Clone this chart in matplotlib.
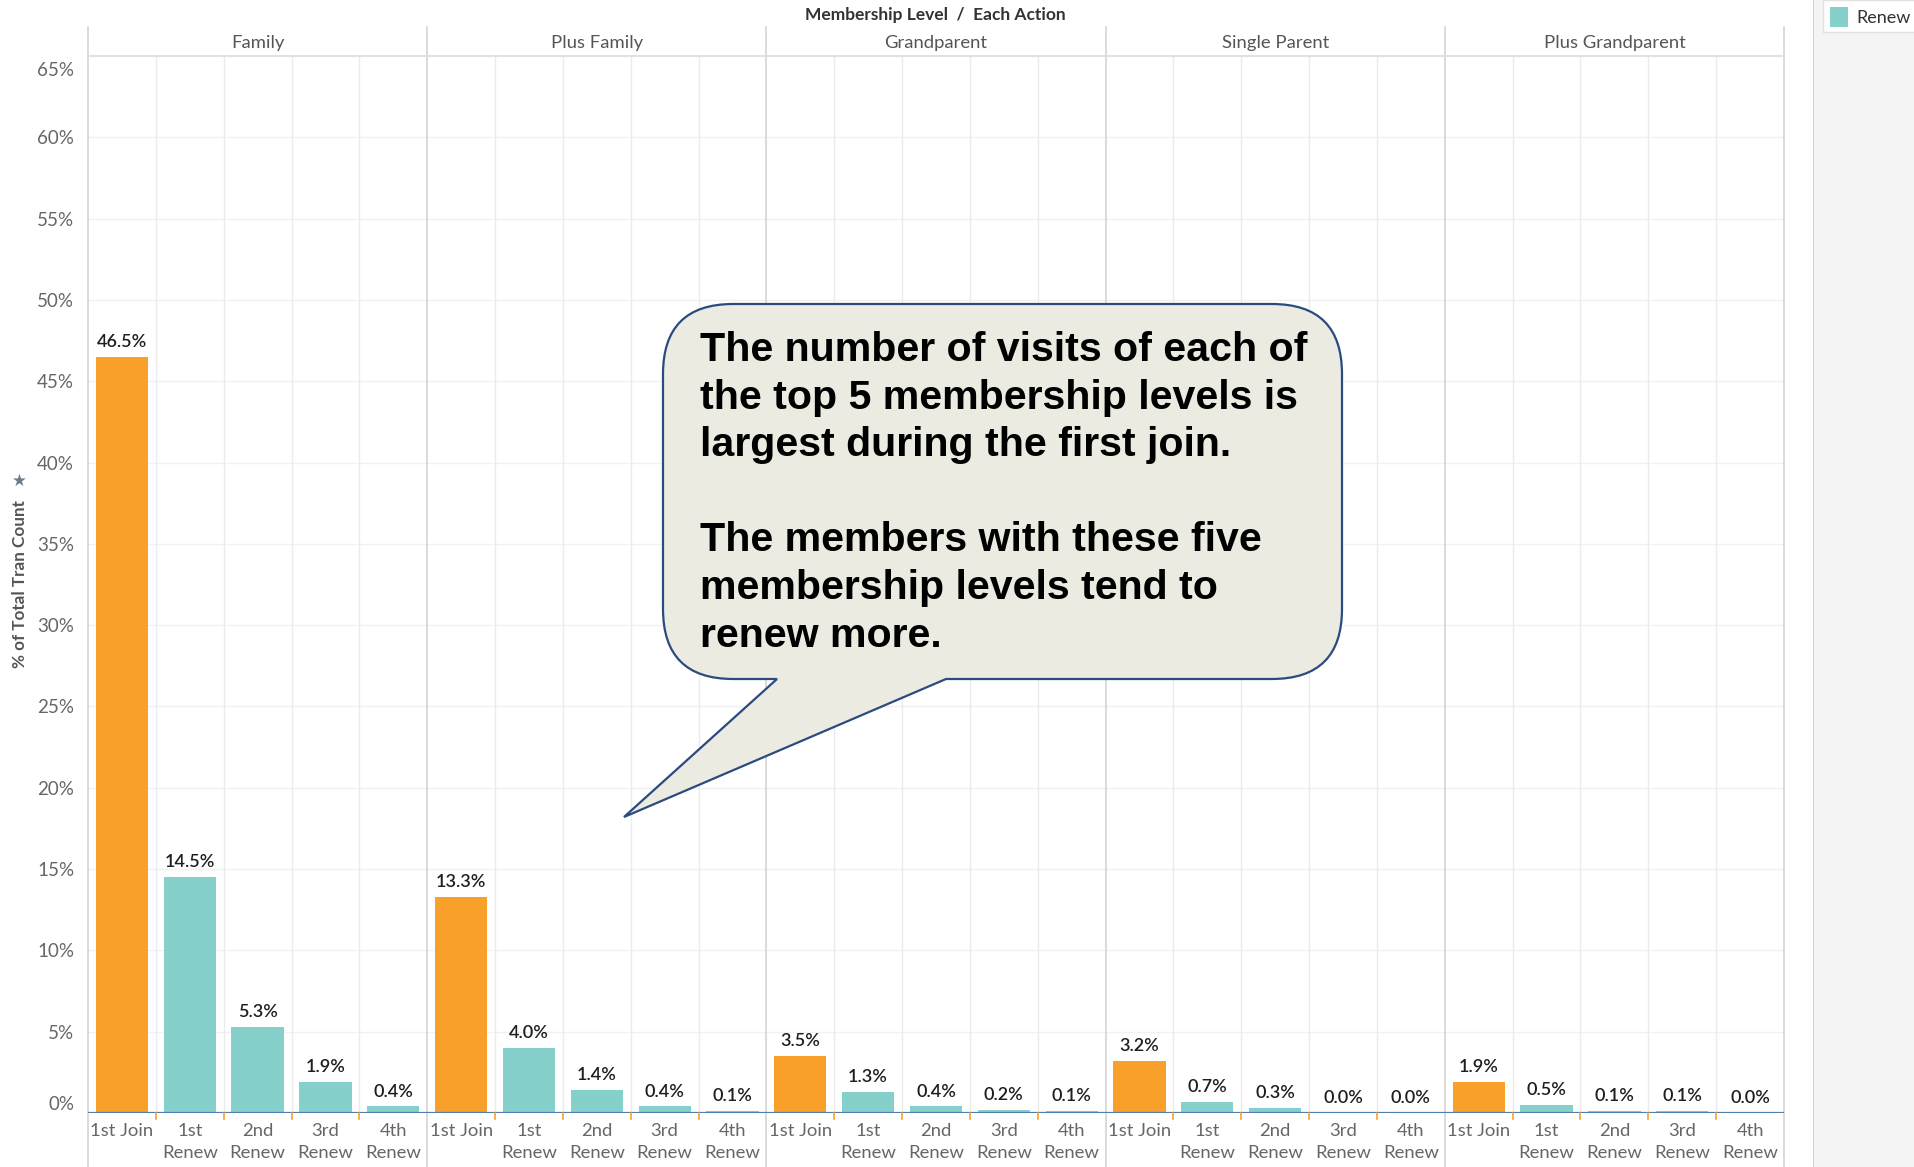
import numpy as np
import matplotlib.pyplot as plt
import matplotlib.patches as patches
from matplotlib.path import Path
from matplotlib.transforms import blended_transform_factory, ScaledTranslation

# membership levels (panels) and the actions inside each panel
levels = ["Family", "Plus Family", "Grandparent", "Single Parent", "Plus Grandparent"]
actions = ["1st Join", "1st\nRenew", "2nd\nRenew", "3rd\nRenew", "4th\nRenew"]
action_type = ["Join", "Renew", "Renew", "Renew", "Renew"]

# % of total transaction count
family = [46.5, 14.5, 5.3, 1.9, 0.4]
plus_family = [13.3, 4.0, 1.4, 0.4, 0.1]
grandparent = [3.5, 1.3, 0.4, 0.2, 0.1]
single_parent = [3.2, 0.7, 0.3, 0.0, 0.0]
plus_grandparent = [1.9, 0.5, 0.1, 0.1, 0.0]

y_ticks = list(range(0, 70, 5))

note = ("The number of visits of each of\n"
        "the top 5 membership levels is\n"
        "largest during the first join.\n"
        "\n"
        "The members with these five\n"
        "membership levels tend to\n"
        "renew more.")

JOIN_COLOR = "#F9A02B"
RENEW_COLOR = "#86D0CC"
GRID = "#ebebeb"
SEP = "#d4d4d4"
TXT = "#666666"
FONT = "Lato"

W, H = 1915, 1167


def fx(px):
    return px / W


def fy(py):
    return 1 - py / H


series = [family, plus_family, grandparent, single_parent, plus_grandparent]
values = [v for s in series for v in s]
kinds = action_type * len(levels)
labels = actions * len(levels)
xs = np.arange(len(values))
n_act = len(actions)

fig = plt.figure(figsize=(W / 100, H / 100), dpi=100)
fig.patch.set_facecolor("white")

ax_left, ax_right, ax_top, ax_bottom = 88, 1784, 56, 1113
ax = fig.add_axes([fx(ax_left), fy(ax_bottom), fx(ax_right - ax_left),
                   (ax_bottom - ax_top) / H])
ax.set_ylim(0, 65)
ax.set_xlim(-0.5, len(values) - 0.5)

for s in ax.spines.values():
    s.set_visible(False)

# horizontal grid
for t in y_ticks[1:-1]:
    ax.axhline(t, color="#f1f1f1", lw=1.0, zorder=0)

# column grid inside each panel
for b in np.arange(0.5, len(values) - 0.5, 1.0):
    if (b + 0.5) % n_act != 0:
        ax.axvline(b, color=GRID, lw=1.0, zorder=0)

colors = [JOIN_COLOR if k == "Join" else RENEW_COLOR for k in kinds]
ax.bar(xs, values, width=0.77, color=colors, zorder=2)

for x, v in zip(xs, values):
    ax.annotate(f"{v:.1f}%", (x, v), xytext=(0, 5), textcoords="offset points",
                ha="center", va="bottom", fontsize=13, color="#1e1e1e",
                family=FONT, weight="semibold")

# baseline
ax.axhline(0, color="#4f7fae", lw=1.6, zorder=3)

# y axis labels; the end labels are pulled inside the plot area
ax.set_yticks(y_ticks)
ax.set_yticklabels([f"{t}%" for t in y_ticks], family=FONT, fontsize=13.5, color=TXT)
ax.tick_params(axis="y", length=0, pad=10)
ylabels = ax.get_yticklabels()
ylabels[0].set_va("bottom")
ylabels[-1].set_va("top")
ylabels[-1].set_transform(ylabels[-1].get_transform()
                          + ScaledTranslation(0, -0.06, fig.dpi_scale_trans))

# x axis labels
ax.set_xticks(xs)
ax.set_xticklabels(labels, family=FONT, fontsize=13.3, color=TXT, linespacing=1.45,
                   va="top")
ax.tick_params(axis="x", length=0, pad=7)

# small orange ticks under the baseline between columns
btrans = blended_transform_factory(ax.transData, ax.transAxes)
for b in np.arange(0.5, len(values) - 0.5, 1.0):
    if (b + 0.5) % n_act != 0:
        ax.plot([b, b], [0, -6 / (ax_bottom - ax_top)], color=JOIN_COLOR, lw=1.2,
                transform=btrans, clip_on=False, zorder=3)

# panel separators, running from the header down to the bottom edge
bot = -(H - ax_bottom) / (ax_bottom - ax_top)
top = 1 + (ax_top - 27) / (ax_bottom - ax_top)
for p in range(len(levels) + 1):
    b = p * n_act - 0.5
    ax.plot([b, b], [bot, top], color=SEP, lw=1.2, transform=btrans,
            clip_on=False, zorder=1)

# header bottom line
ax.plot([-0.5, len(values) - 0.5], [1, 1], color="#dcdcdc", lw=1.2,
        transform=btrans, clip_on=False)

# panel titles
hy = 1 + (ax_top - 43) / (ax_bottom - ax_top)
for p, name in enumerate(levels):
    ax.text(p * n_act + (n_act - 1) / 2, hy, name, transform=btrans, ha="center",
            va="center", fontsize=13.3, color="#555555", family=FONT)

fig.text(fx(935), fy(15), "Membership Level  /  Each Action", ha="center",
         va="center", fontsize=12.5, weight="bold", color="#333333", family=FONT)

fig.text(fx(20), fy(584), "% of Total Tran Count", rotation=90, ha="center",
         va="center", fontsize=12.3, weight="bold", color="#555555", family=FONT)
fig.text(fx(19), fy(481), "\u2605", ha="center", va="center", fontsize=12,
         color="#6b7b8c", family="DejaVu Sans")

# legend panel on the right
fig.add_artist(patches.Rectangle((fx(1813), 0), 1 - fx(1813), 1,
                                 transform=fig.transFigure, facecolor="#f4f4f4",
                                 edgecolor="none", zorder=0))
fig.add_artist(patches.Rectangle((fx(1813), 0), 0.0006, 1,
                                 transform=fig.transFigure, facecolor="#cfcfcf",
                                 edgecolor="none", zorder=0))
fig.add_artist(patches.Rectangle((fx(1823), fy(32)), 1 - fx(1823), 32 / H,
                                 transform=fig.transFigure, facecolor="white",
                                 edgecolor="#e2e2e2", lw=1.0, zorder=1))
fig.add_artist(patches.Rectangle((fx(1830), fy(27)), 18 / W, 20 / H,
                                 transform=fig.transFigure, facecolor=RENEW_COLOR,
                                 edgecolor="none", zorder=2))
fig.text(fx(1856), fy(18), "Renew", ha="left", va="center", fontsize=13,
         color="#333333", family=FONT, zorder=3)

# speech bubble with the note
x0, x1, y0, y1, r = 663, 1342, 304, 679, 70
tail_a, tail_b, tip = 777, 946, (624, 817)
pts = [
    ((x0 + r, y0), Path.MOVETO),
    ((x1 - r, y0), Path.LINETO),
    ((x1, y0), Path.CURVE3), ((x1, y0 + r), Path.CURVE3),
    ((x1, y1 - r), Path.LINETO),
    ((x1, y1), Path.CURVE3), ((x1 - r, y1), Path.CURVE3),
    ((tail_b, y1), Path.LINETO),
    (tip, Path.LINETO),
    ((tail_a, y1), Path.LINETO),
    ((x0 + r, y1), Path.LINETO),
    ((x0, y1), Path.CURVE3), ((x0, y1 - r), Path.CURVE3),
    ((x0, y0 + r), Path.LINETO),
    ((x0, y0), Path.CURVE3), ((x0 + r, y0), Path.CURVE3),
    ((x0 + r, y0), Path.CLOSEPOLY),
]
verts = [(fx(px), fy(py)) for (px, py), _ in pts]
codes = [c for _, c in pts]
bubble = patches.PathPatch(Path(verts, codes), transform=fig.transFigure,
                           facecolor="#ecebe1", edgecolor="#2b4a80", lw=1.6,
                           zorder=5)
fig.add_artist(bubble)

fig.text(fx(700), fy(331), note, ha="left", va="top", fontsize=29.6, weight="bold",
         color="black", family="Liberation Sans", linespacing=1.32, zorder=6)

fig.savefig("out.png", dpi=100)
